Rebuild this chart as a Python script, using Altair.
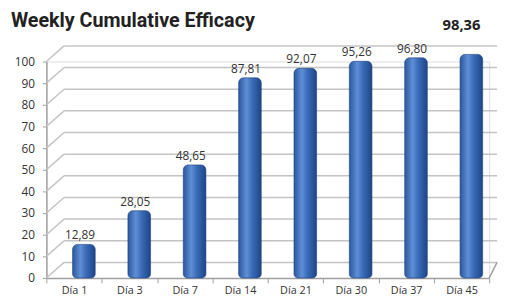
import altair as alt
import pandas as pd

title_text = "Weekly Cumulative Efficacy"
days = ["Día 1", "Día 3", "Día 7", "Día 14", "Día 21", "Día 30", "Día 37", "Día 45"]
values = [12.89, 28.05, 48.65, 87.81, 92.07, 95.26, 96.80, 98.36]
y_ticks = [0, 10, 20, 30, 40, 50, 60, 70, 80, 90, 100]

labels = [f"{v:.2f}".replace(".", ",") for v in values]
df = pd.DataFrame({"day": days, "value": values, "label": labels})
grid_df = pd.DataFrame({"t": y_ticks})

W, H = 450, 220
DEPTH_UNITS = 7.2   # back wall vertical offset in y units
DX = 18             # back wall horizontal offset in px

xenc = alt.X("day:N", sort=days, title=None,
             scale=alt.Scale(paddingInner=0, paddingOuter=0),
             axis=alt.Axis(labelAngle=0, labelFont="Open Sans", labelFontSize=11,
                           labelColor="#333", domainColor="#a0a0a0", tickColor="#a0a0a0",
                           tickBand="extent", tickSize=5, labelPadding=2, domainWidth=1.5))

yaxis = alt.Axis(values=y_ticks, grid=False, labelFont="Open Sans", labelFontSize=12,
                 labelColor="#333", domainColor="#a0a0a0", tickColor="#a0a0a0",
                 tickSize=4, labelPadding=8, domainWidth=1.5, labelOverlap=False)

ysc = alt.Scale(domain=[0, 100], nice=False)

grid_base = alt.Chart(grid_df).transform_calculate(tb=f"datum.t + {DEPTH_UNITS}")
diag = grid_base.mark_rule(color="#c4c4c4", strokeWidth=1.5).encode(
    x=alt.value(0), x2=alt.value(DX),
    y=alt.Y("t:Q", scale=ysc, axis=yaxis, title=None),
    y2="tb:Q")
horiz = grid_base.mark_rule(color="#c4c4c4", strokeWidth=1.5).encode(
    x=alt.value(DX), x2=alt.value(W + 8),
    y=alt.Y("tb:Q", scale=ysc, axis=yaxis, title=None))
right_edge = grid_base.transform_filter("datum.t == 0").mark_rule(
    color="#a0a0a0", strokeWidth=1.5).encode(
    x=alt.value(W), x2=alt.value(W + 8),
    y=alt.Y("t:Q", scale=ysc, axis=yaxis, title=None), y2="tb:Q")

grid = alt.layer(diag, horiz, right_edge)

bsc = alt.Scale(domain=[0, 100 * 222 / 228], nice=False)
grad = alt.Gradient(
    gradient="linear", x1=0, x2=1, y1=0, y2=0,
    stops=[alt.GradientStop(offset=0, color="#2b579e"),
           alt.GradientStop(offset=0.35, color="#5f8fd6"),
           alt.GradientStop(offset=0.6, color="#3a6bb8"),
           alt.GradientStop(offset=1, color="#1e4585")])

base = alt.Chart(df)
bars = base.mark_bar(size=23, xOffset=10, yOffset=-5, color=grad,
                     cornerRadiusTopLeft=5, cornerRadiusTopRight=5,
                     cornerRadiusBottomLeft=4, cornerRadiusBottomRight=4,
                     stroke="#1d4080", strokeWidth=0.6).encode(
    x=xenc, y=alt.Y("value:Q", scale=bsc, axis=None), y2=alt.datum(0))
lab = base.transform_filter(f"datum.day != '{days[-1]}'").mark_text(
    font="Open Sans", fontSize=12, color="#333", dx=6, dy=-10, baseline="alphabetic").encode(
    x=alt.X("day:N", sort=days), y=alt.Y("value:Q", scale=bsc, axis=None), text="label:N")
last = base.transform_filter(f"datum.day == '{days[-1]}'").mark_text(
    font="Open Sans", fontSize=15, fontWeight="bold", color="#222", baseline="middle").encode(
    x=alt.X("day:N", sort=days), y=alt.value(-37), text="label:N")

title = alt.Chart(pd.DataFrame({"t": [title_text]})).mark_text(
    font="Roboto", fontSize=20, fontWeight="bold", color="#222",
    align="left", baseline="alphabetic").encode(
    x=alt.value(-36), y=alt.value(-35), text="t:N")

barlayer = alt.layer(bars, lab, last)

chart = alt.layer(grid, barlayer, title).resolve_scale(y="independent").properties(
    width=W, height=H, padding={"left": 39, "top": 52, "right": 12, "bottom": 20},
    autosize=alt.AutoSizeParams(type="none")
).configure_view(stroke=None).configure(background="white")

chart.save("out.html", embed_options={"renderer": "svg", "actions": False})
